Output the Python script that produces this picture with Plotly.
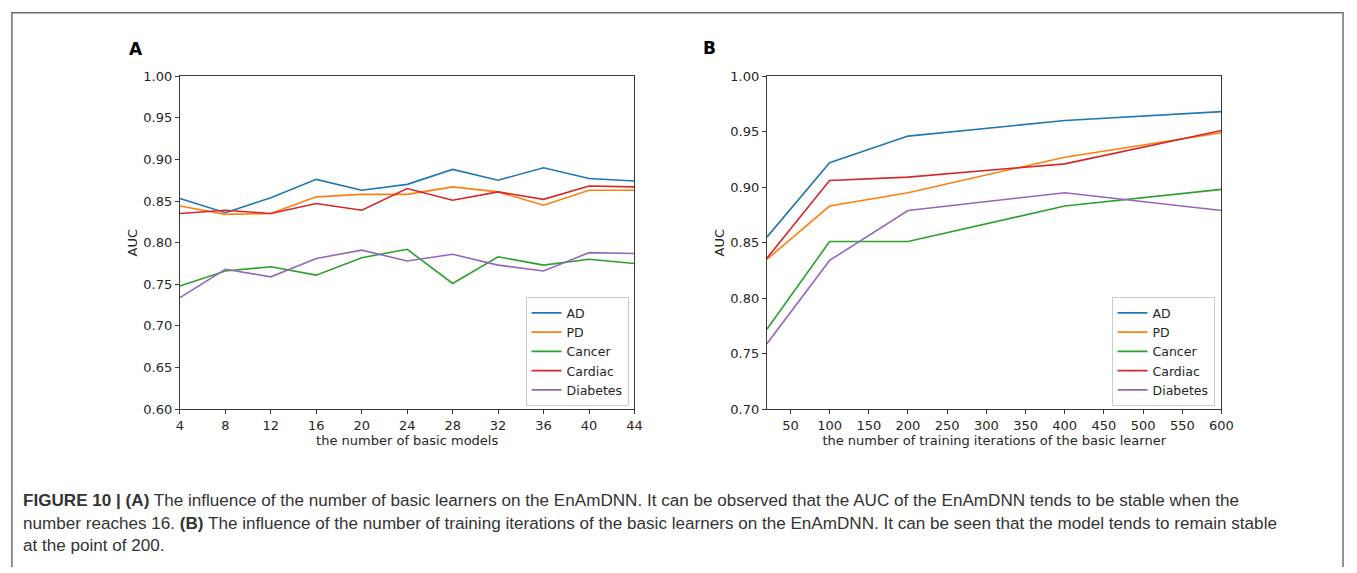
import plotly.graph_objects as go

W, H = 1357, 573

# ---------------- data ----------------
series_names = ["AD", "PD", "Cancer", "Cardiac", "Diabetes"]
colors = ["#1f77b4", "#ff7f0e", "#2ca02c", "#d62728", "#9467bd"]

# Panel A: number of basic models
models_x = [4, 8, 12, 16, 20, 24, 28, 32, 36, 40, 44]
a_AD = [0.853, 0.836, 0.854, 0.876, 0.863, 0.870, 0.888, 0.875, 0.890, 0.877, 0.874]
a_PD = [0.844, 0.834, 0.835, 0.855, 0.858, 0.858, 0.867, 0.861, 0.845, 0.863, 0.863]
a_Cancer = [0.748, 0.766, 0.771, 0.761, 0.782, 0.792, 0.751, 0.783, 0.773, 0.780, 0.775]
a_Cardiac = [0.835, 0.839, 0.835, 0.847, 0.839, 0.865, 0.851, 0.861, 0.852, 0.868, 0.867]
a_Diabetes = [0.734, 0.768, 0.759, 0.781, 0.791, 0.778, 0.786, 0.773, 0.766, 0.788, 0.787]

# Panel B: training iterations
iters_x = [20, 100, 200, 400, 600]
b_AD = [0.855, 0.922, 0.946, 0.960, 0.968]
b_PD = [0.835, 0.883, 0.895, 0.927, 0.949]
b_Cancer = [0.772, 0.851, 0.851, 0.883, 0.898]
b_Cardiac = [0.836, 0.906, 0.909, 0.921, 0.951]
b_Diabetes = [0.759, 0.834, 0.879, 0.895, 0.879]

a_ticks_x = [4, 8, 12, 16, 20, 24, 28, 32, 36, 40, 44]
a_ticks_y = [0.60, 0.65, 0.70, 0.75, 0.80, 0.85, 0.90, 0.95, 1.00]
b_ticks_x = [50, 100, 150, 200, 250, 300, 350, 400, 450, 500, 550, 600]
b_ticks_y = [0.70, 0.75, 0.80, 0.85, 0.90, 0.95, 1.00]

caption_lines = [
    "<b>FIGURE 10 | (A)</b> The influence of the number of basic learners on the EnAmDNN. It can be observed that the AUC of the EnAmDNN tends to be stable when the",
    "number reaches 16. <b>(B)</b> The influence of the number of training iterations of the basic learners on the EnAmDNN. It can be seen that the model tends to remain stable",
    "at the point of 200.",
]

# ---------------- layout helpers ----------------
def px_x(p):
    return p / W

def px_y(p):
    return 1 - p / H

fig = go.Figure()

a_data = [a_AD, a_PD, a_Cancer, a_Cardiac, a_Diabetes]
b_data = [b_AD, b_PD, b_Cancer, b_Cardiac, b_Diabetes]

for name, col, ys in zip(series_names, colors, a_data):
    fig.add_trace(go.Scatter(x=models_x, y=ys, mode="lines", name=name,
                             line=dict(color=col, width=1.6),
                             xaxis="x", yaxis="y", legend="legend"))
for name, col, ys in zip(series_names, colors, b_data):
    fig.add_trace(go.Scatter(x=iters_x, y=ys, mode="lines", name=name,
                             line=dict(color=col, width=1.6),
                             xaxis="x2", yaxis="y2", legend="legend2"))

font_c = "#262626"
axis_common = dict(showgrid=False, zeroline=False, showline=True, mirror=True,
                   linecolor="#3a3a3a", linewidth=1.2, ticks="outside", ticklen=4,
                   tickwidth=1, tickcolor="#3a3a3a",
                   tickfont=dict(family="DejaVu Sans", size=13, color=font_c))

ydom = [px_y(413), px_y(71)]

fig.update_layout(
    width=W, height=H,
    margin=dict(l=0, r=0, t=0, b=0),
    paper_bgcolor="white", plot_bgcolor="white",
    font=dict(family="DejaVu Sans", size=13, color=font_c),
    xaxis=dict(axis_common, domain=[px_x(178), px_x(638)], range=[4, 44],
               tickvals=a_ticks_x, anchor="y",
               title=dict(text="the number of basic models", standoff=3,
                          font=dict(size=13))),
    yaxis=dict(axis_common, domain=ydom, range=[0.60, 1.00],
               tickvals=a_ticks_y, tickformat=".2f", anchor="x",
               title=dict(text="AUC", standoff=2, font=dict(size=13))),
    xaxis2=dict(axis_common, domain=[px_x(772), px_x(1232)], range=[20, 600],
                tickvals=b_ticks_x, anchor="y2",
                title=dict(text="the number of training iterations of the basic learner",
                           standoff=3, font=dict(size=13))),
    yaxis2=dict(axis_common, domain=ydom, range=[0.70, 1.00],
                tickvals=b_ticks_y, tickformat=".2f", anchor="x2",
                title=dict(text="AUC", standoff=2, font=dict(size=13))),
    legend=dict(x=px_x(632), y=px_y(410), xanchor="right", yanchor="bottom",
                bgcolor="white", bordercolor="#cccccc", borderwidth=1,
                font=dict(family="DejaVu Sans", size=12.5, color=font_c),
                tracegroupgap=0, itemwidth=30),
    legend2=dict(x=px_x(1225), y=px_y(410), xanchor="right", yanchor="bottom",
                 bgcolor="white", bordercolor="#cccccc", borderwidth=1,
                 font=dict(family="DejaVu Sans", size=12.5, color=font_c),
                 tracegroupgap=0, itemwidth=30),
    showlegend=True,
)

# outer frame (top, left, right)
fig.add_shape(type="path", xref="paper", yref="paper",
              path=f"M {px_x(8)},{px_y(H + 2)} L {px_x(8)},{px_y(6)} L {px_x(1355)},{px_y(6)} L {px_x(1355)},{px_y(H + 2)}",
              line=dict(color="#6e6e6e", width=1.5))

# panel labels
fig.add_annotation(text="<b>A</b>", x=px_x(134), y=px_y(43), xref="paper", yref="paper",
                   showarrow=False, xanchor="center", yanchor="middle",
                   font=dict(family="DejaVu Sans", size=17, color="black"))
fig.add_annotation(text="<b>B</b>", x=px_x(714), y=px_y(42), xref="paper", yref="paper",
                   showarrow=False, xanchor="center", yanchor="middle",
                   font=dict(family="DejaVu Sans", size=17, color="black"))

# caption
for i, line in enumerate(caption_lines):
    fig.add_annotation(text=line, x=px_x(17), y=px_y(507 + 23 * i), xref="paper", yref="paper",
                       showarrow=False, xanchor="left", yanchor="middle", align="left",
                       font=dict(family="Liberation Sans", size=17.1, color="#333333"))

fig.write_html("out.html", post_script="document.body.style.margin='0';document.body.style.overflow='hidden';")
